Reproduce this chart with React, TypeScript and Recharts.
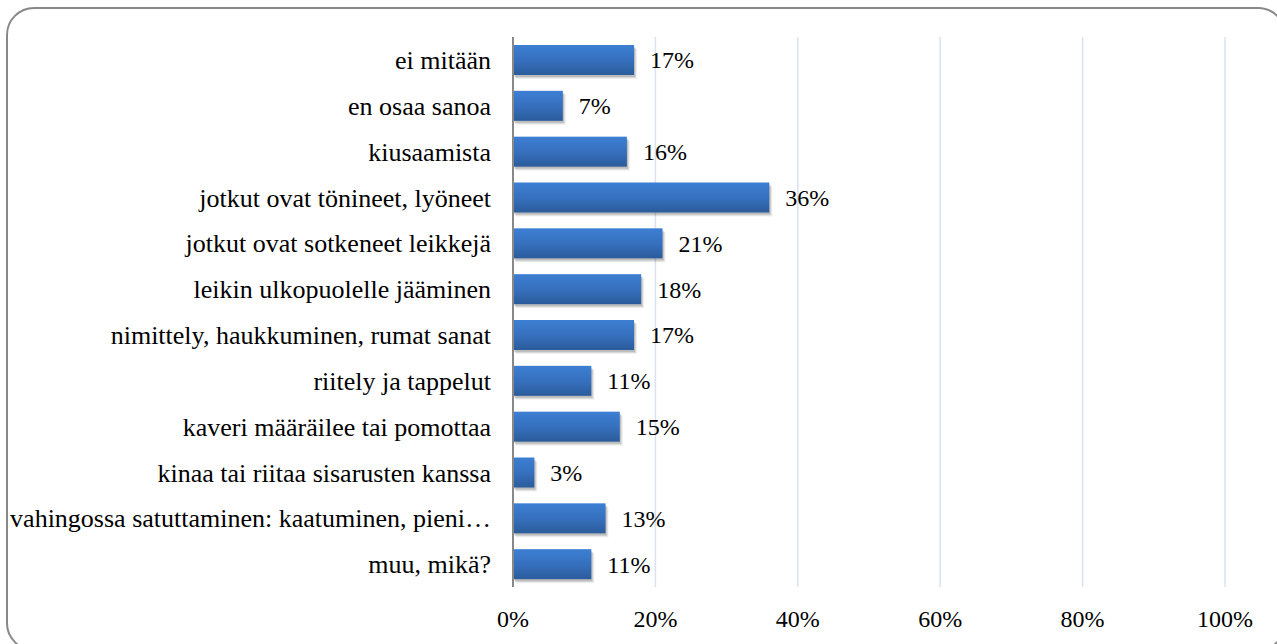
import {
  Bar,
  BarChart,
  CartesianGrid,
  LabelList,
  XAxis,
  YAxis,
} from "recharts";

const categories = [
  "ei mitään",
  "en osaa sanoa",
  "kiusaamista",
  "jotkut ovat tönineet, lyöneet",
  "jotkut ovat sotkeneet leikkejä",
  "leikin ulkopuolelle jääminen",
  "nimittely, haukkuminen, rumat sanat",
  "riitely ja tappelut",
  "kaveri määräilee tai pomottaa",
  "kinaa tai riitaa sisarusten kanssa",
  "vahingossa satuttaminen: kaatuminen, pieni…",
  "muu, mikä?",
];

const values = [17, 7, 16, 36, 21, 18, 17, 11, 15, 3, 13, 11];

const xTicks = [0, 20, 40, 60, 80, 100];

const data = categories.map((name, i) => ({ name, value: values[i] }));

// no font family set: text inherits the page's default serif font
function CategoryTick(props: any) {
  const { x, y, payload } = props;
  return (
    <text x={x} y={y} dy="0.35em" textAnchor="end" fill="#000" fontSize={26}>
      {payload.value}
    </text>
  );
}

function PercentTick(props: any) {
  const { x, y, payload } = props;
  return (
    <text x={x} y={y} dy="0.71em" textAnchor="middle" fill="#000" fontSize={24}>
      {`${payload.value}%`}
    </text>
  );
}

function ValueLabel(props: any) {
  const { x, y, width, height, value } = props;
  return (
    <text x={x + width + 16} y={y + height / 2} dy="0.35em" textAnchor="start" fill="#000" fontSize={24}>
      {`${value}%`}
    </text>
  );
}

// bar with a soft shadow built from offset translucent rects
function ShadowBar(props: any) {
  const { x, y, width, height } = props;
  return (
    <g>
      <rect x={x + 3} y={y + 4} width={width} height={height} fill="#000" fillOpacity={0.06} />
      <rect x={x + 2} y={y + 3} width={width} height={height} fill="#000" fillOpacity={0.1} />
      <rect x={x + 1} y={y + 2} width={width} height={height} fill="#000" fillOpacity={0.12} />
      <rect x={x} y={y} width={width} height={height} fill="url(#barGrad)" />
    </g>
  );
}

export default function App() {
  return (
    <div
      style={{
        position: "absolute",
        left: 0,
        top: 0,
        width: 1277,
        height: 644,
        overflow: "hidden",
        background: "#fff",
      }}
    >
      <svg width={1277} height={644} style={{ position: "absolute", left: 0, top: 0 }}>
        <defs>
          <linearGradient id="barGrad" x1="0" y1="0" x2="0" y2="1">
            <stop offset="0%" stopColor="#3d7fd3" />
            <stop offset="50%" stopColor="#3670be" />
            <stop offset="100%" stopColor="#2b5c9b" />
          </linearGradient>
        </defs>
        <rect x={7} y={8} width={1278} height={642} rx={27} ry={27} fill="none" stroke="#888" strokeWidth={2} />
      </svg>
      <div style={{ position: "absolute", left: 0, top: 0 }}>
        <BarChart
          width={1277}
          height={644}
          data={data}
          layout="vertical"
          margin={{ top: 37, right: 52, bottom: 0, left: 0 }}
        >
          <CartesianGrid horizontal={false} stroke="#d8e2f0" strokeWidth={1.5} />
          <XAxis
            type="number"
            domain={[0, 100]}
            ticks={xTicks}
            axisLine={false}
            tickLine={false}
            tickSize={0}
            tickMargin={23}
            height={57}
            tick={<PercentTick />}
          />
          <YAxis
            type="category"
            dataKey="name"
            width={513}
            axisLine={{ stroke: "#888", strokeWidth: 2 }}
            tickLine={false}
            tickSize={0}
            tickMargin={22}
            tick={<CategoryTick />}
            interval={0}
          />
          <Bar dataKey="value" fill="#3670be" barSize={30} shape={<ShadowBar />} isAnimationActive={false}>
            <LabelList dataKey="value" content={<ValueLabel />} />
          </Bar>
        </BarChart>
      </div>
    </div>
  );
}
